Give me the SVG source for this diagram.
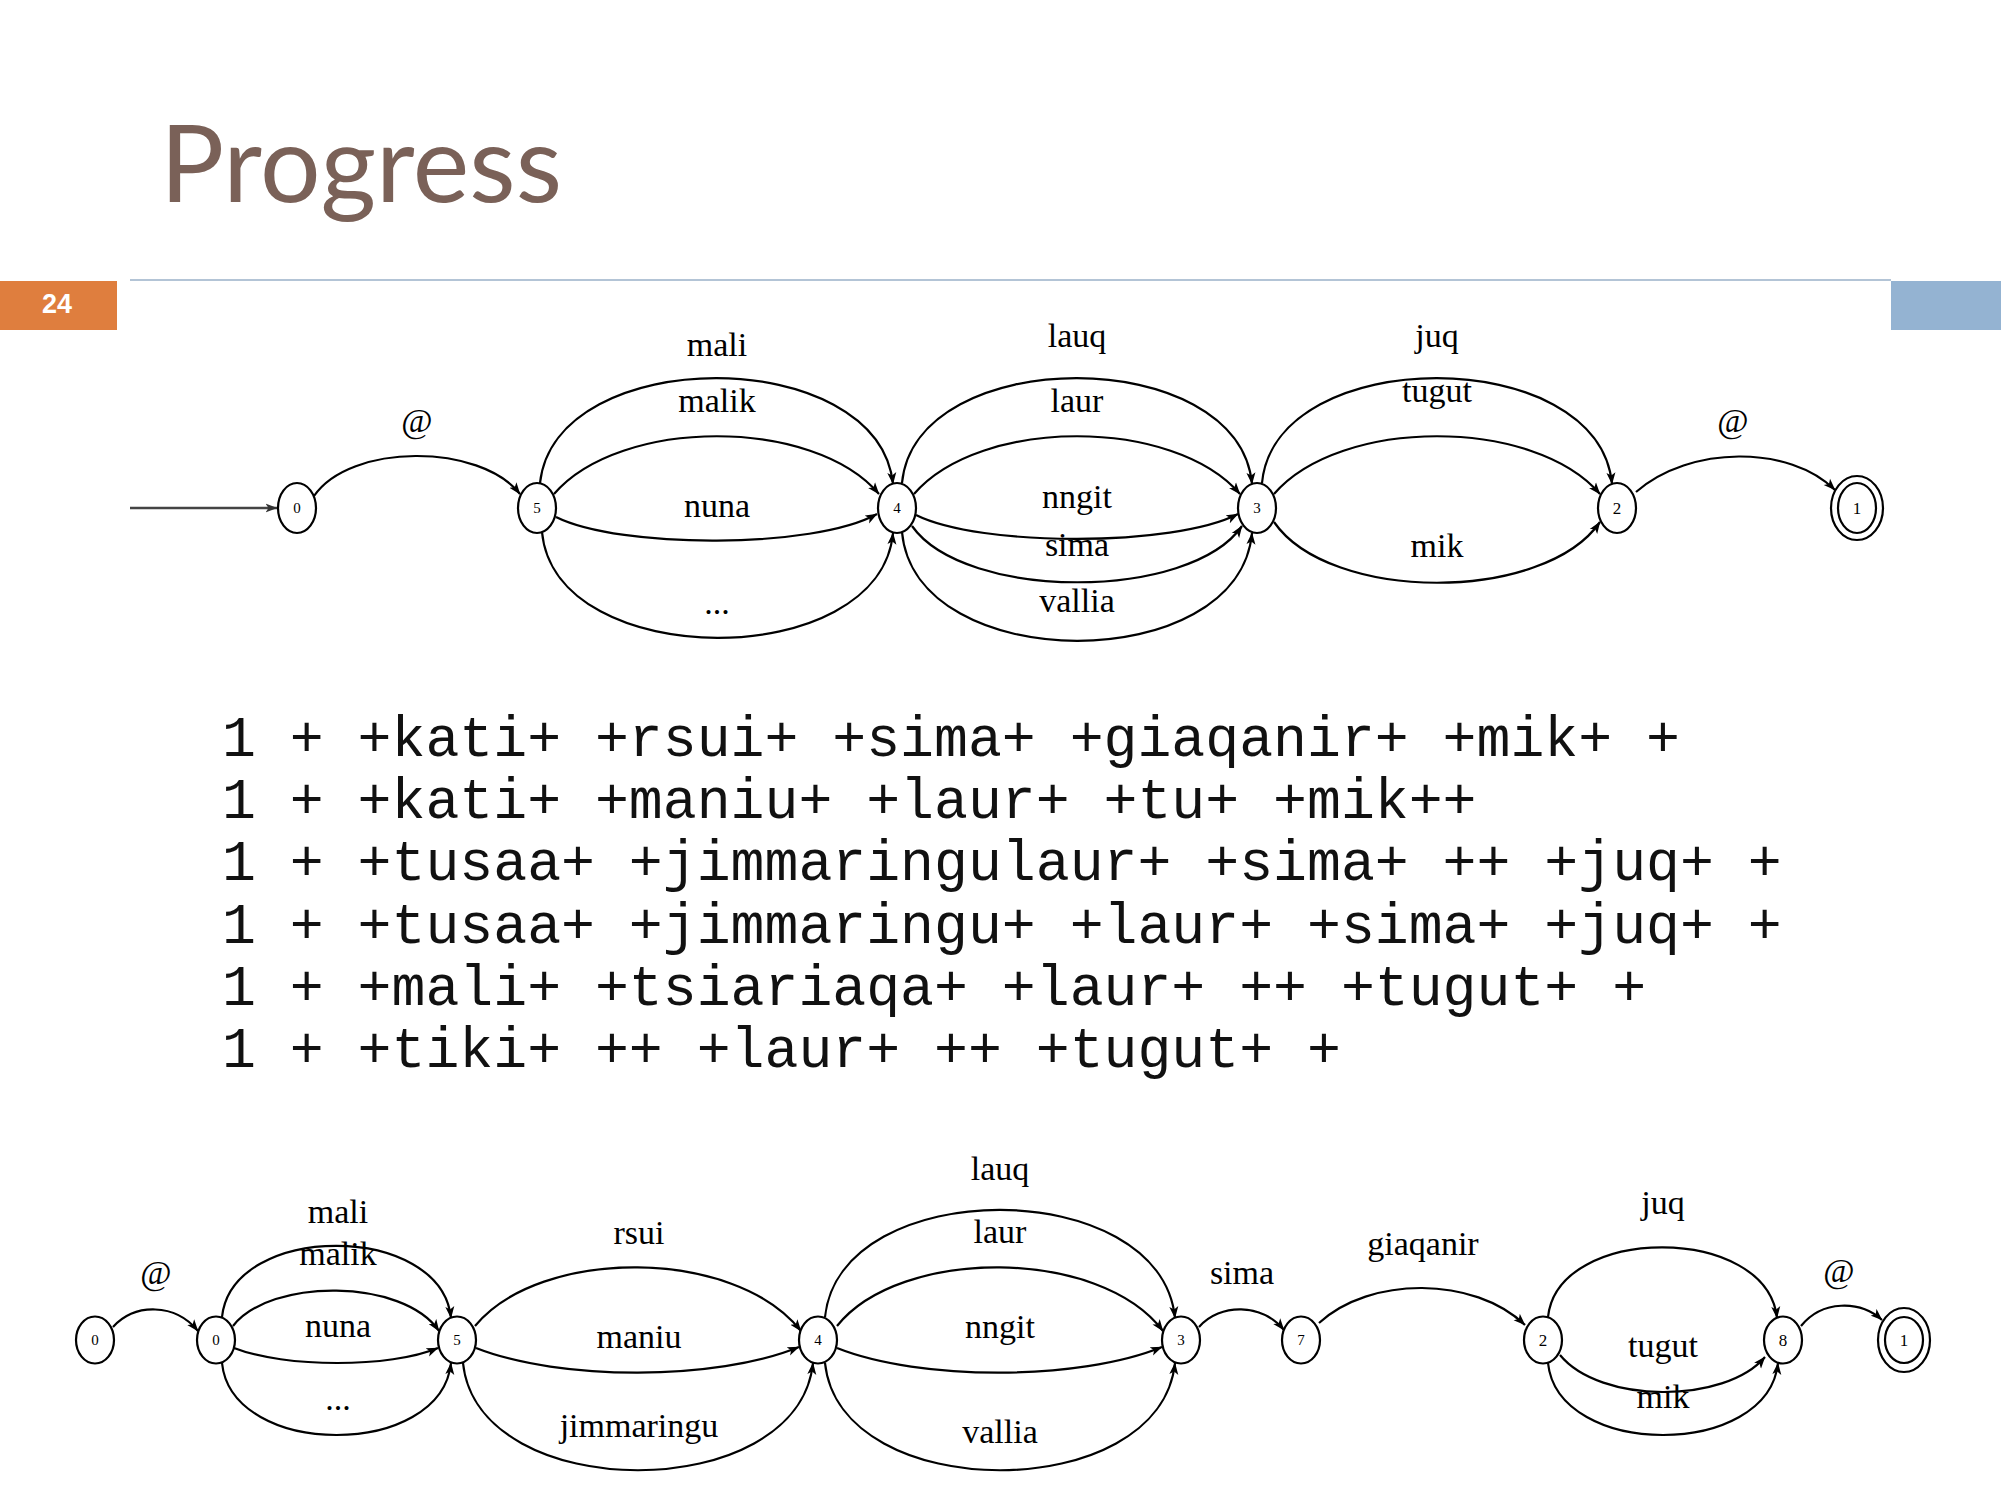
<svg xmlns="http://www.w3.org/2000/svg" width="2001" height="1501" viewBox="0 0 2001 1501">
<defs>
<marker id="ah" viewBox="0 0 12 10" refX="11.5" refY="5" markerWidth="12" markerHeight="10" markerUnits="userSpaceOnUse" orient="auto">
<path d="M0,0.5 L12,5 L0,9.5 L3,5 z" fill="#000"/>
</marker>
<marker id="ahg" viewBox="0 0 12 10" refX="11.5" refY="5" markerWidth="12" markerHeight="10" markerUnits="userSpaceOnUse" orient="auto">
<path d="M0,0.5 L12,5 L0,9.5 L3,5 z" fill="#333"/>
</marker>
</defs>
<style>
.e{fill:none;stroke:#000;stroke-width:2.2;marker-end:url(#ah)}
.n{fill:#fff;stroke:#000;stroke-width:2.2}
.nl{font-family:"Liberation Serif","DejaVu Serif",serif;font-size:15px;text-anchor:middle;fill:#000}
.nb{font-family:"Liberation Serif","DejaVu Serif",serif;font-size:17px;text-anchor:middle;fill:#000}
.l{font-family:"Liberation Serif","DejaVu Serif",serif;font-size:34px;text-anchor:middle;fill:#000}
.m{font-family:"Liberation Mono","Courier New",monospace;font-size:56.5px;fill:#111}
</style>
<rect width="2001" height="1501" fill="#fff"/>
<g id="header">
<text x="160" y="202" font-family="Lato,'Open Sans',sans-serif" font-size="107" fill="#7A6158" textLength="402" lengthAdjust="spacing">Progress</text>
<rect x="0" y="281" width="117" height="49" fill="#DF7E3E"/>
<text x="57" y="313" font-family="'Liberation Sans',Arial,sans-serif" font-weight="bold" font-size="27" fill="#fff" text-anchor="middle">24</text>
<line x1="130" y1="280" x2="1891" y2="280" stroke="#9AB0C8" stroke-width="1.5"/>
<rect x="1891" y="281" width="110" height="49" fill="#94B3D2"/>
</g>

<g id="top-connectors">
<line x1="130" y1="508" x2="277" y2="508" stroke="#444" stroke-width="2.5" marker-end="url(#ahg)"/>
<path class="e" d="M314,496 C350,443 480,443 520,494"/>
<path class="e" d="M540,483 C555,343 878,343 893,484"/>
<path class="e" d="M554,494 C620,417 814,417 879,494"/>
<path class="e" d="M556,517 C620,549 814,549 877,514"/>
<path class="e" d="M542,532 C555,673 880,673 893,533"/>
<path class="e" d="M902,483 C915,343 1239,343 1252,484"/>
<path class="e" d="M914,494 C980,417 1174,417 1240,494"/>
<path class="e" d="M916,515 C980,547 1174,547 1238,514"/>
<path class="e" d="M912,526 C965,601 1190,601 1242,526"/>
<path class="e" d="M902,532 C915,677 1239,677 1252,533"/>
<path class="e" d="M1262,483 C1275,343 1599,343 1612,484"/>
<path class="e" d="M1274,494 C1340,417 1534,417 1600,494"/>
<path class="e" d="M1274,522 C1330,603 1544,603 1600,522"/>
<path class="e" d="M1636,492 C1690,445 1790,445 1835,490"/>
</g>
<g id="top-labels">
<text class="l" x="417" y="432">@</text>
<text class="l" x="717" y="356">mali</text>
<text class="l" x="717" y="412">malik</text>
<text class="l" x="717" y="517">nuna</text>
<text class="l" x="717" y="614">...</text>
<text class="l" x="1077" y="347">lauq</text>
<text class="l" x="1077" y="412">laur</text>
<text class="l" x="1077" y="508">nngit</text>
<text class="l" x="1077" y="556">sima</text>
<text class="l" x="1077" y="612">vallia</text>
<text class="l" x="1437" y="347">juq</text>
<text class="l" x="1437" y="402">tugut</text>
<text class="l" x="1437" y="557">mik</text>
<text class="l" x="1733" y="432">@</text>
</g>
<g id="t0"><ellipse class="n" cx="297" cy="508" rx="19" ry="25"/><text class="nl" x="297" y="513">0</text></g>
<g id="t5"><ellipse class="n" cx="537" cy="508" rx="19" ry="25"/><text class="nl" x="537" y="513">5</text></g>
<g id="t4"><ellipse class="n" cx="897" cy="508" rx="19" ry="25"/><text class="nl" x="897" y="513">4</text></g>
<g id="t3"><ellipse class="n" cx="1257" cy="508" rx="19" ry="25"/><text class="nl" x="1257" y="513">3</text></g>
<g id="t2"><ellipse class="n" cx="1617" cy="508" rx="19" ry="25"/><text class="nb" x="1617" y="514">2</text></g>
<g id="t1"><ellipse class="n" cx="1857" cy="508" rx="26" ry="32"/><ellipse class="n" cx="1857" cy="508" rx="19" ry="25"/><text class="nb" x="1857" y="514">1</text></g>

<g id="sequences">
<text class="m" x="222" y="756" xml:space="preserve">1 + +kati+ +rsui+ +sima+ +giaqanir+ +mik+ +</text>
<text class="m" x="222" y="818" xml:space="preserve">1 + +kati+ +maniu+ +laur+ +tu+ +mik++</text>
<text class="m" x="222" y="880" xml:space="preserve">1 + +tusaa+ +jimmaringulaur+ +sima+ ++ +juq+ +</text>
<text class="m" x="222" y="943" xml:space="preserve">1 + +tusaa+ +jimmaringu+ +laur+ +sima+ +juq+ +</text>
<text class="m" x="222" y="1005" xml:space="preserve">1 + +mali+ +tsiariaqa+ +laur+ ++ +tugut+ +</text>
<text class="m" x="222" y="1067" xml:space="preserve">1 + +tiki+ ++ +laur+ ++ +tugut+ +</text>
</g>

<g id="bottom-connectors">
<path class="e" d="M113,1327 C135,1303 175,1303 198,1331"/>
<path class="e" d="M222,1317 C232,1222 441,1222 451,1318"/>
<path class="e" d="M233,1326 C270,1278 403,1278 439,1331"/>
<path class="e" d="M234,1348 C285,1368 390,1368 438,1348"/>
<path class="e" d="M222,1363 C232,1459 441,1459 451,1363"/>
<path class="e" d="M475,1326 C540,1247 735,1247 801,1331"/>
<path class="e" d="M476,1348 C560,1381 716,1381 799,1347"/>
<path class="e" d="M463,1363 C478,1506 798,1506 813,1363"/>
<path class="e" d="M825,1317 C840,1174 1160,1174 1175,1318"/>
<path class="e" d="M837,1326 C900,1247 1100,1247 1163,1331"/>
<path class="e" d="M837,1348 C920,1381 1079,1381 1162,1347"/>
<path class="e" d="M825,1363 C840,1506 1160,1506 1175,1363"/>
<path class="e" d="M1199,1327 C1220,1303 1262,1303 1284,1330"/>
<path class="e" d="M1319,1323 C1370,1276 1474,1276 1525,1325"/>
<path class="e" d="M1548,1317 C1558,1224 1767,1224 1777,1318"/>
<path class="e" d="M1560,1355 C1600,1404 1725,1404 1765,1357"/>
<path class="e" d="M1548,1363 C1558,1459 1768,1459 1778,1363"/>
<path class="e" d="M1801,1326 C1822,1300 1860,1300 1882,1320"/>
</g>
<g id="bottom-labels">
<text class="l" x="156" y="1284">@</text>
<text class="l" x="338" y="1223">mali</text>
<text class="l" x="338" y="1265">malik</text>
<text class="l" x="338" y="1337">nuna</text>
<text class="l" x="338" y="1410">...</text>
<text class="l" x="639" y="1244">rsui</text>
<text class="l" x="639" y="1348">maniu</text>
<text class="l" x="639" y="1437">jimmaringu</text>
<text class="l" x="1000" y="1180">lauq</text>
<text class="l" x="1000" y="1243">laur</text>
<text class="l" x="1000" y="1338">nngit</text>
<text class="l" x="1000" y="1443">vallia</text>
<text class="l" x="1242" y="1284">sima</text>
<text class="l" x="1423" y="1255">giaqanir</text>
<text class="l" x="1663" y="1214">juq</text>
<text class="l" x="1663" y="1357">tugut</text>
<text class="l" x="1663" y="1408">mik</text>
<text class="l" x="1839" y="1282">@</text>
</g>
<g id="b0a"><ellipse class="n" cx="95" cy="1340" rx="19" ry="23.5"/><text class="nl" x="95" y="1345">0</text></g>
<g id="b0b"><ellipse class="n" cx="216" cy="1340" rx="19" ry="23.5"/><text class="nl" x="216" y="1345">0</text></g>
<g id="b5"><ellipse class="n" cx="457" cy="1340" rx="19" ry="23.5"/><text class="nl" x="457" y="1345">5</text></g>
<g id="b4"><ellipse class="n" cx="818" cy="1340" rx="19" ry="23.5"/><text class="nl" x="818" y="1345">4</text></g>
<g id="b3"><ellipse class="n" cx="1181" cy="1340" rx="19" ry="23.5"/><text class="nl" x="1181" y="1345">3</text></g>
<g id="b7"><ellipse class="n" cx="1301" cy="1340" rx="19" ry="23.5"/><text class="nl" x="1301" y="1345">7</text></g>
<g id="b2"><ellipse class="n" cx="1543" cy="1340" rx="19" ry="23.5"/><text class="nb" x="1543" y="1346">2</text></g>
<g id="b8"><ellipse class="n" cx="1783" cy="1340" rx="19" ry="23.5"/><text class="nb" x="1783" y="1346">8</text></g>
<g id="b1"><ellipse class="n" cx="1904" cy="1340" rx="26" ry="32"/><ellipse class="n" cx="1904" cy="1340" rx="19" ry="23"/><text class="nb" x="1904" y="1346">1</text></g>
</svg>
